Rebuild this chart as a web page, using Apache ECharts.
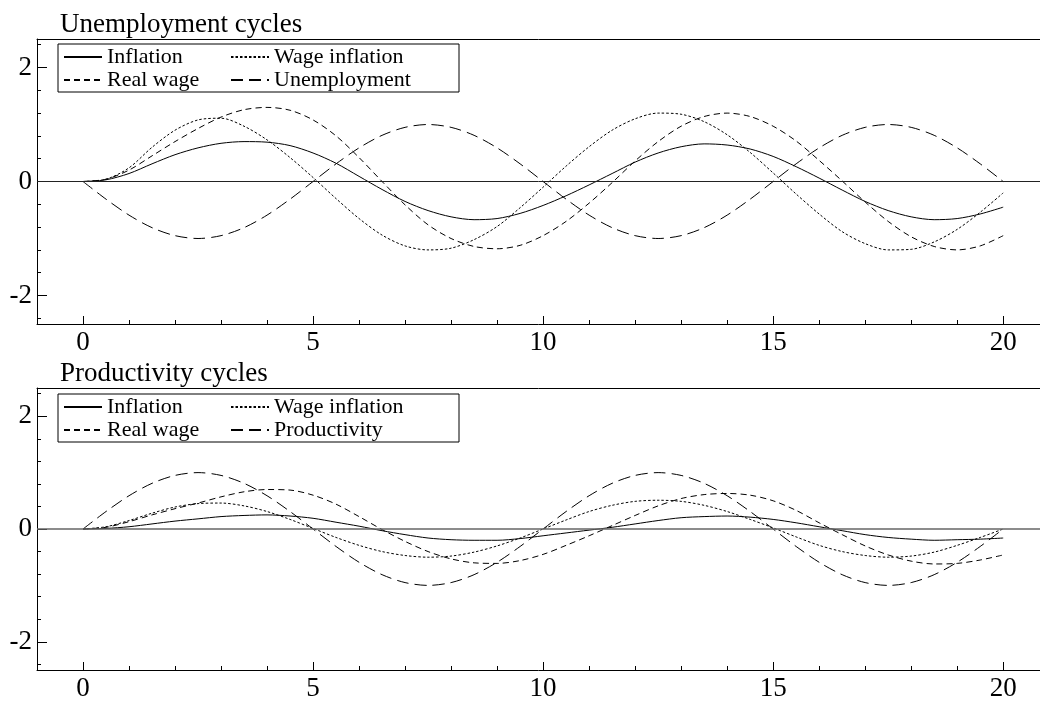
<!DOCTYPE html>
<html><head><meta charset="utf-8">
<script src="https://cdn.jsdelivr.net/npm/echarts@6/dist/echarts.min.js"></script>
<style>html,body{margin:0;padding:0;background:#fff}#c{width:1040px;height:702px}</style>
</head><body><div id="c"></div>
<script>
// ---- data ----
const xs = [0,0.5,1,1.5,2,2.5,3,3.5,4,4.5,5,5.5,6,6.5,7,7.5,8,8.5,9,9.5,10,10.5,11,11.5,12,12.5,13,13.5,14,14.5,15,15.5,16,16.5,17,17.5,18,18.5,19,19.5,20];

// Unemployment cycles panel
const unInflation = [0,0.03,0.14,0.31,0.47,0.59,0.67,0.7,0.69,0.63,
  0.5,0.32,0.09,-0.14,-0.35,-0.51,-0.62,-0.67,-0.65,-0.56,
  -0.42,-0.25,-0.06,0.14,0.34,0.5,0.61,0.66,0.64,0.57,
  0.44,0.26,0.06,-0.15,-0.35,-0.51,-0.62,-0.67,-0.65,-0.57,
  -0.45];
const unWageInflation = [0,0.04,0.24,0.6,0.9,1.08,1.11,0.97,0.73,0.42,
  0.07,-0.3,-0.65,-0.94,-1.13,-1.2,-1.17,-1.02,-0.79,-0.46,
  -0.1,0.27,0.61,0.9,1.1,1.2,1.18,1.05,0.82,0.51,
  0.15,-0.22,-0.57,-0.88,-1.09,-1.2,-1.19,-1.06,-0.84,-0.54,
  -0.2];
const unRealWage = [0,0.04,0.2,0.45,0.7,0.93,1.13,1.26,1.3,1.25,
  1.08,0.8,0.42,0.0,-0.41,-0.76,-1.0,-1.14,-1.18,-1.12,
  -0.95,-0.7,-0.38,-0.02,0.36,0.7,0.97,1.14,1.2,1.14,
  0.97,0.71,0.37,0.01,-0.36,-0.7,-0.97,-1.14,-1.2,-1.13,
  -0.95];
const unUnemployment = [0,-0.31,-0.59,-0.81,-0.95,-1,-0.95,-0.81,-0.59,-0.31,
  0,0.31,0.59,0.81,0.95,1,0.95,0.81,0.59,0.31,
  0,-0.31,-0.59,-0.81,-0.95,-1,-0.95,-0.81,-0.59,-0.31,
  0,0.31,0.59,0.81,0.95,1,0.95,0.81,0.59,0.31,
  0];

// Productivity cycles panel
const prInflation = [0,0.01,0.04,0.09,0.14,0.18,0.22,0.24,0.25,0.23,
  0.19,0.12,0.05,-0.03,-0.1,-0.16,-0.19,-0.2,-0.2,-0.17,
  -0.12,-0.07,-0.02,0.03,0.09,0.15,0.2,0.22,0.23,0.21,
  0.17,0.11,0.04,-0.03,-0.1,-0.15,-0.18,-0.2,-0.19,-0.18,
  -0.16];
const prWageInflation = [0,0.04,0.15,0.28,0.39,0.45,0.46,0.41,0.31,0.17,
  0.01,-0.15,-0.29,-0.4,-0.47,-0.5,-0.48,-0.41,-0.3,-0.16,
  0.0,0.16,0.31,0.42,0.49,0.51,0.49,0.42,0.31,0.17,
  0.02,-0.14,-0.29,-0.4,-0.47,-0.5,-0.48,-0.41,-0.29,-0.15,
  0.0];
const prRealWage = [0,0.03,0.13,0.25,0.36,0.46,0.57,0.66,0.7,0.69,
  0.6,0.44,0.22,-0.01,-0.22,-0.4,-0.53,-0.6,-0.61,-0.56,
  -0.45,-0.29,-0.12,0.06,0.24,0.41,0.54,0.61,0.63,0.6,
  0.5,0.33,0.11,-0.1,-0.3,-0.46,-0.57,-0.62,-0.61,-0.55,
  -0.46];
const prProductivity = [0,0.31,0.59,0.81,0.95,1,0.95,0.81,0.59,0.31,
  0,-0.31,-0.59,-0.81,-0.95,-1,-0.95,-0.81,-0.59,-0.31,
  0,0.31,0.59,0.81,0.95,1,0.95,0.81,0.59,0.31,
  0,-0.31,-0.59,-0.81,-0.95,-1,-0.95,-0.81,-0.59,-0.31,
  0];

const titles = ['Unemployment cycles', 'Productivity cycles'];
const xMajorTicks = [0,5,10,15,20];
const xMinorTicks = [1,2,3,4,6,7,8,9,11,12,13,14,16,17,18,19];
const yMajorTicks = [-2,0,2];
const yMinorTicks = [-2.4,-2,-1.6,-1.2,-0.8,-0.4,0,0.4,0.8,1.2,1.6,2,2.4];

// ---- chart ----
const FONT = "'Liberation Serif', 'Times New Roman', serif";
const gridTops = [39, 388];
const PANEL_SHIFT = 349.5;

function pairs(ys){ return xs.map((x,i)=>[x, ys[i]]); }

const grids = gridTops.map(t => ({left:37, right:0, top:t, height:285, containLabel:false}));
const xAxes = [], yAxes = [];
gridTops.forEach((t, g) => {
  xAxes.push({gridIndex:g, type:'value', min:-1, max:20.8, position:'bottom',
    axisLine:{show:true, onZero:false, lineStyle:{color:'#000', width:1}},
    axisTick:{show:true, inside:true, length:8, customValues:xMajorTicks, lineStyle:{color:'#000'}},
    axisLabel:{show:true, customValues:xMajorTicks, color:'#000', fontSize:27, fontFamily:FONT, margin:5},
    splitLine:{show:false}});
  xAxes.push({gridIndex:g, type:'value', min:-1, max:20.8, position:'bottom',
    axisLine:{show:false, onZero:false},
    axisTick:{show:true, inside:true, length:4, customValues:xMinorTicks, lineStyle:{color:'#000'}},
    axisLabel:{show:false}, splitLine:{show:false}});
  xAxes.push({gridIndex:g, type:'value', min:-1, max:20.8, position:'top',
    axisLine:{show:true, onZero:false, lineStyle:{color:'#000', width:1}},
    axisTick:{show:false}, axisLabel:{show:false}, splitLine:{show:false}});
  yAxes.push({gridIndex:g, type:'value', min:-2.5, max:2.5, position:'left',
    axisLine:{show:true, onZero:false, lineStyle:{color:'#000', width:1}},
    axisTick:{show:true, inside:true, length:10, customValues:yMajorTicks, lineStyle:{color:'#000'}},
    axisLabel:{show:true, customValues:yMajorTicks, color:'#000', fontSize:27, fontFamily:FONT, margin:5,
      formatter: v => String(v)},
    splitLine:{show:false}});
  yAxes.push({gridIndex:g, type:'value', min:-2.5, max:2.5, position:'left',
    axisLine:{show:false, onZero:false},
    axisTick:{show:true, inside:true, length:4, customValues:yMinorTicks, lineStyle:{color:'#000'}},
    axisLabel:{show:false}, splitLine:{show:false}});
});

const DASH = {
  'Inflation':'solid',
  'Wage inflation':[2.5,2],
  'Real wage':[6,4],
  'Unemployment':[12,6],
  'Productivity':[12,6]
};

function mk(name, ys, g, zero){
  const s = {name, type:'line', xAxisIndex:g*3, yAxisIndex:g*2, data:pairs(ys),
    symbol:'none', smooth:0.3, animation:false, silent:true,
    lineStyle:{color:'#000', width:1, type:DASH[name]}, itemStyle:{color:'#000'}};
  if (zero) {
    s.markLine = {silent:true, symbol:['none','none'], label:{show:false}, animation:false,
      lineStyle:{color:zero.color, width:zero.width, type:'solid'}, data:[{yAxis:0}]};
  }
  return s;
}

const series = [
  mk('Inflation', unInflation, 0, {color:'#222', width:1}),
  mk('Wage inflation', unWageInflation, 0),
  mk('Real wage', unRealWage, 0),
  mk('Unemployment', unUnemployment, 0),
  mk('Inflation', prInflation, 1, {color:'#666', width:1.5}),
  mk('Wage inflation', prWageInflation, 1),
  mk('Real wage', prRealWage, 1),
  mk('Productivity', prProductivity, 1)
];

function legendFor(names, top){
  return {top, left:58, orient:'horizontal', width:400, selectedMode:false,
    borderColor:'#000', borderWidth:1, padding:[2,5,1,5], itemGap:1,
    itemWidth:38, itemHeight:14,
    itemStyle:{opacity:0, color:'transparent', borderWidth:0},
    textStyle:{color:'#000', fontSize:22, fontFamily:FONT, lineHeight:22},
    data:[
      {name:names[0], textStyle:{width:122}},
      {name:names[1], textStyle:{width:180}},
      {name:names[2], textStyle:{width:122}},
      {name:names[3], textStyle:{width:180}}
    ]};
}

const option = {
  backgroundColor:'#fff',
  animation:false,
  title: titles.map((t,i)=>({text:t, left:60, top:11 + i*PANEL_SHIFT, padding:0,
    textStyle:{color:'#000', fontSize:27, fontWeight:'normal', fontFamily:FONT}})),
  legend:[
    legendFor(['Inflation','Wage inflation','Real wage','Unemployment'], 44),
    legendFor(['Inflation','Wage inflation','Real wage','Productivity'], 394)
  ],
  grid:grids,
  xAxis:xAxes,
  yAxis:yAxes,
  series
};
const chart = echarts.init(document.getElementById('c'), null, {renderer:'canvas'});
chart.setOption(option);
</script>
</body></html>
